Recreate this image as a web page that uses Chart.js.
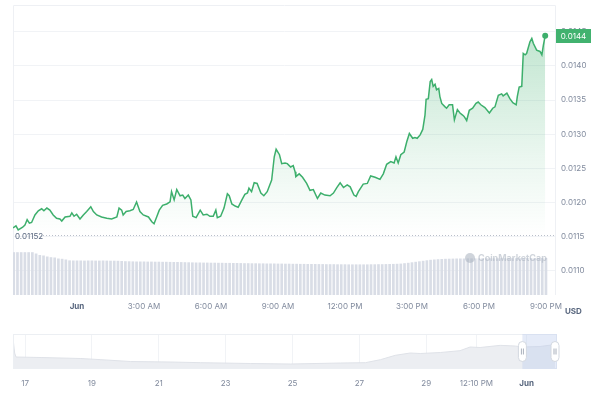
<!DOCTYPE html>
<html><head><meta charset="utf-8">
<script src="https://cdn.jsdelivr.net/npm/chart.js@4.4.1/dist/chart.umd.min.js"></script>
<style>
html,body{margin:0;padding:0;background:#fff;width:600px;height:400px;overflow:hidden}
#main{position:absolute;left:0;top:0}
#nav{position:absolute;left:0;top:325px}
</style></head><body>
<canvas id="main" width="600" height="325"></canvas>
<canvas id="nav" width="600" height="75"></canvas>
<script>
// ---- data: minutes relative to Jun 1 00:00 ----
const priceMinutes = [-172,-164,-158,-146,-140,-134,-128,-122,-113,-104,
-95,-89,-81,-73,-64,-55,-46,-41,-32,-19,
-14,-8,-1,8,17,26,37,44,53,66,
80,93,107,113,120,124,132,142,151,160,
169,178,192,201,207,214,221,230,241,250,
254,261,268,277,284,290,299,306,311,320,
331,339,349,357,366,373,377,386,395,404,
409,416,425,433,443,451,458,462,469,476,
484,494,502,511,523,530,535,544,550,559,
565,574,581,586,588,597,606,617,626,635,
646,655,666,680,689,698,707,716,726,734,
744,750,756,769,780,789,801,814,823,832,
843,852,857,863,870,879,886,893,902,908,
914,922,929,935,938,944,949,953,957,962,
966,972,975,980,989,993,1000,1009,1014,1022,
1029,1036,1040,1047,1054,1063,1072,1078,1085,1096,
1108,1117,1123,1132,1141,1145,1155,1163,1171,1180,
1183,1188,1195,1199,1204,1208,1217,1222,1226,1235,
1244,1249,1253,1258];
const prices = [0.01163,0.01166,0.01160,0.01164,0.01167,0.01175,0.01170,0.01171,0.01182,0.01188,
0.01191,0.01188,0.01192,0.01189,0.01182,0.01177,0.01176,0.01173,0.01179,0.01180,
0.01185,0.01180,0.01183,0.01176,0.01182,0.01187,0.01194,0.01187,0.01182,0.01179,
0.01177,0.01176,0.01179,0.01192,0.01189,0.01182,0.01187,0.01188,0.01190,0.01201,
0.01187,0.01182,0.01179,0.01172,0.01169,0.01179,0.01189,0.01196,0.01198,0.01201,
0.01216,0.01204,0.01219,0.01210,0.01211,0.01206,0.01211,0.01204,0.01180,0.01178,
0.01189,0.01182,0.01183,0.01180,0.01180,0.01189,0.01178,0.01180,0.01192,0.01213,
0.01210,0.01198,0.01195,0.01193,0.01204,0.01212,0.01214,0.01221,0.01216,0.01229,
0.01228,0.01214,0.01210,0.01216,0.01233,0.01267,0.01278,0.01270,0.01257,0.01258,
0.01257,0.01252,0.01254,0.01245,0.01238,0.01242,0.01237,0.01228,0.01218,0.01219,
0.01206,0.01214,0.01211,0.01210,0.01214,0.01222,0.01229,0.01222,0.01226,0.01223,
0.01211,0.01209,0.01216,0.01227,0.01228,0.01239,0.01237,0.01234,0.01242,0.01256,
0.01260,0.01258,0.01267,0.01258,0.01270,0.01274,0.01289,0.01301,0.01294,0.01295,
0.01294,0.01299,0.01307,0.01328,0.01351,0.01352,0.01377,0.01380,0.01370,0.01373,
0.01365,0.01367,0.01355,0.01345,0.01340,0.01338,0.01343,0.01343,0.01321,0.01336,
0.01331,0.01328,0.01326,0.01320,0.01335,0.01338,0.01345,0.01347,0.01343,0.01339,
0.01331,0.01338,0.01340,0.01357,0.01359,0.01356,0.01360,0.01352,0.01346,0.01343,
0.01355,0.01369,0.01370,0.01418,0.01416,0.01418,0.01435,0.01440,0.01433,0.01423,
0.01421,0.01416,0.01430,0.01444];
const startPrice = 0.01152;
const lastPriceLabel = '0.0144';
// 24h volume, 10-minute bars from 21:10 May 31
const volumeStartMinute = -170, volumeStepMinutes = 10;
const volumes = [4.28,4.28,4.28,4.28,4.28,4.28,
4.15,4.00,3.95,3.85,3.78,3.75,3.65,3.62,3.55,
3.46,3.45,3.45,3.45,3.44,3.45,3.45,3.44,3.44,3.45,3.44,3.43,3.43,3.42,3.40,
3.38,3.37,3.36,3.35,3.35,3.35,3.34,3.34,3.33,3.33,3.32,3.32,3.31,3.30,3.30,3.29,3.28,
3.27,3.26,3.25,3.25,3.24,3.24,3.23,3.23,3.22,3.22,3.21,3.21,3.20,3.20,
3.19,3.18,3.18,3.17,3.17,3.16,3.16,3.15,3.15,3.15,
3.14,3.14,3.13,3.13,3.12,3.12,3.11,3.11,3.10,3.10,
3.10,3.09,3.09,3.08,3.08,3.08,3.07,3.07,3.07,3.06,
3.06,3.06,3.06,3.06,3.06,3.07,3.07,3.08,3.08,3.09,
3.10,3.11,3.12,3.14,
3.18,3.22,3.27,3.32,3.37,3.42,
3.47,3.52,3.55,3.58,3.60,
3.62,3.63,3.64,3.65,3.65,3.65,3.66,3.66,3.66,3.66,
3.67,3.67,3.67,3.67,3.67,3.68,3.68,3.68,3.68,3.68,
3.68,3.69,3.69,3.69,3.69,3.70,3.70,3.70];
const xTickMinutes = [0,180,360,540,720,900,1080,1260];
const xTickLabels = ['Jun','3:00 AM','6:00 AM','9:00 AM','12:00 PM','3:00 PM','6:00 PM','9:00 PM'];
const yTickValues = [0.0110,0.0115,0.0120,0.0125,0.0130,0.0135,0.0140,0.0145];

// navigator overview (days from May 17 00:00)
const navDays = [-0.36,-0.31,-0.27,0.48,1.67,2.27,3.16,4.36,5.25,6.75,7.94,9.43,10.18,10.63,11.07,11.52,11.82,12.42,13.01,13.31,13.61,14.21,14.66,14.87,15.40,15.85];
const navValues = [0.0186,0.0096,0.0072,0.0069,0.0063,0.0056,0.0045,0.0042,0.0038,0.0033,0.0030,0.0036,0.0038,0.0056,0.0082,0.0096,0.0093,0.0099,0.0110,0.0132,0.0129,0.0142,0.0138,0.0132,0.0135,0.0147];
const navTickDays = [0,2,4,6,8,10,12,13.5,15];
const navTickLabels = ['17','19','21','23','25','27','29','12:10 PM','Jun'];
const navSelection = [14.875, 15.91];

// ---- styles ----
const FONT = 'Inter, "Noto Sans", sans-serif';
const GREEN = '#3daf6c';
const BOX = '#41b26f';
const TXT = '#808a9d';

const mainDecor = {
  id: 'mainDecor',
  beforeDatasetsDraw(chart) {
    const {ctx, chartArea: a} = chart;
    ctx.save();
    ctx.strokeStyle = '#eef0f4'; ctx.lineWidth = 1;
    ctx.beginPath();
    ctx.moveTo(a.left + 0.5, a.bottom); ctx.lineTo(a.left + 0.5, a.top + 0.5);
    ctx.lineTo(a.right - 0.5, a.top + 0.5); ctx.lineTo(a.right - 0.5, a.bottom);
    ctx.stroke();
    ctx.restore();
  },
  afterDatasetsDraw(chart) {
    const {ctx, chartArea: a, scales} = chart;
    const y = Math.round(scales.y.getPixelForValue(startPrice)) + 0.5;
    ctx.save();
    ctx.strokeStyle = '#b9bfca'; ctx.lineWidth = 1; ctx.setLineDash([1, 2]);
    ctx.beginPath(); ctx.moveTo(a.left + 30, y); ctx.lineTo(a.right, y); ctx.stroke();
    ctx.setLineDash([]);
    ctx.fillStyle = '#58667e'; ctx.font = '8px ' + FONT;
    ctx.textAlign = 'left'; ctx.textBaseline = 'middle';
    ctx.fillText(startPrice.toString(), a.left + 2, y + 1.5);
    // watermark
    ctx.fillStyle = 'rgba(168,176,190,0.55)';
    ctx.beginPath(); ctx.arc(470, 258, 5, 0, Math.PI * 2); ctx.fill();
    ctx.font = 'bold 9px ' + FONT; ctx.textBaseline = 'middle';
    ctx.fillText('CoinMarketCap', 478, 258);
    ctx.restore();
  },
  afterDraw(chart) {
    const {ctx, chartArea: a, scales} = chart;
    const last = prices[prices.length - 1];
    const y = scales.y.getPixelForValue(last);
    ctx.save();
    ctx.fillStyle = BOX;
    ctx.fillRect(a.right, Math.round(y) - 7, 35, 14);
    ctx.fillStyle = '#ffffff'; ctx.font = '8px ' + FONT;
    ctx.textAlign = 'center'; ctx.textBaseline = 'middle';
    ctx.fillText(lastPriceLabel, a.right + 17.5, Math.round(y) + 0.5);
    ctx.fillStyle = '#58667e'; ctx.font = 'bold 8px ' + FONT;
    ctx.textAlign = 'left';
    ctx.fillText('USD', a.right + 9, 312);
    ctx.restore();
  }
};

const lineData = priceMinutes.map((m, i) => ({x: m, y: prices[i]}));
const volData = volumes.map((v, i) => ({x: volumeStartMinute + i * volumeStepMinutes, y: v}));

new Chart(document.getElementById('main'), {
  data: {
    datasets: [
      {
        type: 'line', data: lineData, yAxisID: 'y', order: 1,
        borderColor: GREEN, borderWidth: 1.5, tension: 0,
        pointRadius: c => c.dataIndex === lineData.length - 1 ? 3 : 0,
        pointBackgroundColor: GREEN, pointBorderWidth: 0,
        fill: {value: startPrice},
        backgroundColor: c => {
          const ch = c.chart; const a = ch.chartArea;
          if (!a) return 'rgba(61,175,108,0.15)';
          const y0 = ch.scales.y.getPixelForValue(0.0145);
          const y1 = ch.scales.y.getPixelForValue(startPrice);
          const g = ch.ctx.createLinearGradient(0, y0, 0, y1);
          g.addColorStop(0, 'rgba(61,175,108,0.32)');
          g.addColorStop(0.6, 'rgba(61,175,108,0.11)');
          g.addColorStop(1, 'rgba(61,175,108,0.0)');
          return g;
        }
      },
      {
        type: 'bar', data: volData, yAxisID: 'yv', order: 2,
        backgroundColor: '#d9dde6', barPercentage: 0.9, categoryPercentage: 0.8
      }
    ]
  },
  options: {
    responsive: false, animation: false, devicePixelRatio: 1,
    layout: {padding: {left: 13, top: 5, right: 0, bottom: 0}},
    plugins: {legend: {display: false}, tooltip: {enabled: false}},
    scales: {
      x: {
        type: 'linear', min: -172, max: 1287, offset: false,
        afterFit(s) { s.height = 30; s.paddingLeft = 0; s.paddingRight = 0; },
        afterBuildTicks(s) { s.ticks = xTickMinutes.map(v => ({value: v})); },
        ticks: {
          autoSkip: false, maxRotation: 0, padding: 7,
          callback: (v, i) => xTickLabels[i],
          color: c => c.index === 0 ? '#58667e' : TXT,
          font: c => ({family: FONT, size: 8, weight: c.index === 0 ? 'bold' : 'normal'})
        },
        grid: {display: false, drawTicks: false, offset: false}, border: {display: false}
      },
      y: {
        position: 'right', min: 0.010649, max: 0.014889,
        afterFit(s) { s.width = 44; s.paddingTop = 0; s.paddingBottom = 0; },
        afterBuildTicks(s) { s.ticks = yTickValues.map(v => ({value: v})); },
        ticks: {padding: 5, color: TXT, font: {family: FONT, size: 8}, callback: v => v.toFixed(4)},
        grid: {color: '#f1f3f6', drawTicks: false}, border: {display: false}
      },
      yv: {display: false, min: 0, max: 29}
    }
  },
  plugins: [mainDecor]
});

const navDecor = {
  id: 'navDecor',
  afterDatasetsDraw(chart) {
    const {ctx, chartArea: a, scales} = chart;
    ctx.save();
    ctx.strokeStyle = '#eceff3'; ctx.lineWidth = 1;
    ctx.strokeRect(a.left + 0.5, a.top + 0.5, a.right - a.left - 1, a.bottom - a.top - 1);
    const x0 = scales.x.getPixelForValue(navSelection[0]);
    const x1 = scales.x.getPixelForValue(navSelection[1]);
    ctx.fillStyle = 'rgba(190,204,238,0.40)';
    ctx.fillRect(x0, a.top, x1 - x0, a.bottom - a.top);
    const cy = (a.top + a.bottom) / 2;
    [x0, x1 - 2].forEach(x => {
      ctx.fillStyle = '#ffffff'; ctx.strokeStyle = '#d3d8e0';
      ctx.beginPath();
      if (ctx.roundRect) ctx.roundRect(x - 4, cy - 10, 8, 20, 4); else ctx.rect(x - 4, cy - 10, 8, 20);
      ctx.fill(); ctx.stroke();
      ctx.strokeStyle = '#a9b0bc';
      ctx.beginPath();
      ctx.moveTo(x - 1, cy - 3); ctx.lineTo(x - 1, cy + 3);
      ctx.moveTo(x + 1, cy - 3); ctx.lineTo(x + 1, cy + 3);
      ctx.stroke();
    });
    ctx.restore();
  }
};

new Chart(document.getElementById('nav'), {
  type: 'line',
  data: {datasets: [{
    data: navDays.map((d, i) => ({x: d, y: navValues[i]})),
    borderColor: '#dfe2e8', borderWidth: 1, backgroundColor: '#eceef2',
    fill: 'origin', pointRadius: 0, tension: 0
  }]},
  options: {
    responsive: false, animation: false, devicePixelRatio: 1,
    layout: {padding: {left: 13, right: 43, top: 9, bottom: 0}},
    plugins: {legend: {display: false}, tooltip: {enabled: false}},
    scales: {
      x: {
        type: 'linear', min: -0.36, max: 15.91,
        afterFit(s) { s.height = 31; },
        afterBuildTicks(s) { s.ticks = navTickDays.map(v => ({value: v})); },
        ticks: {
          autoSkip: false, maxRotation: 0, padding: 10,
          callback: (v, i) => navTickLabels[i],
          color: c => c.index === navTickLabels.length - 1 ? '#58667e' : TXT,
          font: c => ({family: FONT, size: 8, weight: c.index === navTickLabels.length - 1 ? 'bold' : 'normal'})
        },
        grid: {color: '#f1f3f6', drawTicks: false}, border: {display: false}
      },
      y: {display: false, min: 0, max: 0.021}
    }
  },
  plugins: [navDecor]
});
</script>
</body></html>
